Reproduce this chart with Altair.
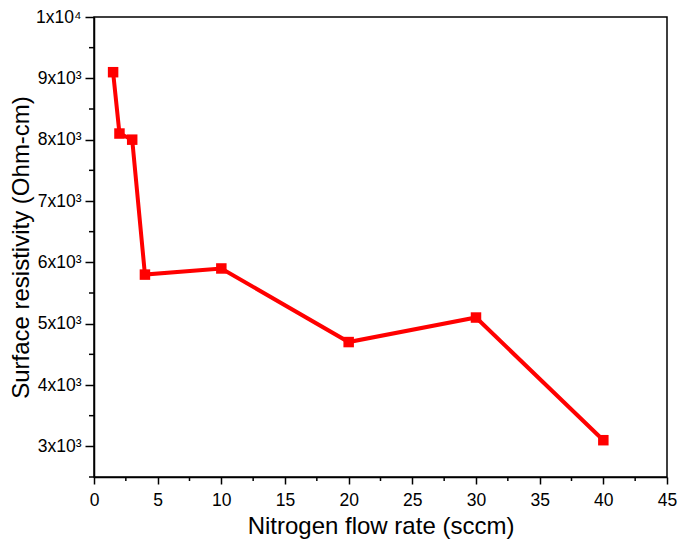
import altair as alt
import pandas as pd

flow = [1.5, 2, 3, 4, 10, 20, 30, 40]
resist = [9100, 8100, 8000, 5800, 5900, 4700, 5100, 3100]

x_major = [0, 5, 10, 15, 20, 25, 30, 35, 40, 45]
x_minor = [2.5, 7.5, 12.5, 17.5, 22.5, 27.5, 32.5, 37.5, 42.5]
y_major = [3000, 4000, 5000, 6000, 7000, 8000, 9000, 10000]
y_minor = [2500, 3500, 4500, 5500, 6500, 7500, 8500, 9500]

W, H = 573, 460
FONT = "Liberation Sans"

df = pd.DataFrame({"flow": flow, "resist": resist})
xs = alt.Scale(domain=[0, 45], nice=False, zero=False)
ys = alt.Scale(domain=[2500, 10000], nice=False, zero=False)

base = alt.Chart(df)

xaxis = alt.Axis(values=x_major, title="Nitrogen flow rate (sccm)", grid=False,
                 tickSize=7, tickWidth=1.5, domainWidth=1.5, tickColor="black",
                 domainColor="black", labelFontSize=17.5, titleFontSize=24,
                 labelPadding=7, titlePadding=6, labelColor="black", titleColor="black",
                 titleFontWeight="normal", labelFont=FONT, titleFont=FONT, labelFlush=False)
yaxis = alt.Axis(values=y_major, title="Surface resistivity (Ohm-cm)", grid=False,
                 tickSize=9, tickWidth=1.5, domainWidth=1.5, tickColor="black",
                 domainColor="black", labelFontSize=17.5, titleFontSize=24,
                 labelPadding=4, titlePadding=2, labelColor="black", titleColor="black",
                 titleFontWeight="normal", labelFont=FONT, titleFont=FONT, labelFlush=False,
                 labelExpr="datum.value == 10000 ? '1x10\u2074' : floor(datum.value/1000) + 'x10\u00b3'")

line = base.mark_line(color="#ff0000", strokeWidth=4).encode(
    x=alt.X("flow:Q", scale=xs, axis=xaxis),
    y=alt.Y("resist:Q", scale=ys, axis=yaxis),
)
pts = base.mark_point(shape="square", filled=True, size=110, color="#ff0000", opacity=1).encode(
    x=alt.X("flow:Q", scale=xs, axis=xaxis),
    y=alt.Y("resist:Q", scale=ys, axis=yaxis),
)

xm = alt.Chart(pd.DataFrame({"v": x_minor})).mark_rule(color="black", strokeWidth=1.5).encode(
    x=alt.X("v:Q", scale=xs, axis=xaxis),
    y=alt.value(H), y2=alt.value(H + 4),
)
ym = alt.Chart(pd.DataFrame({"v": y_minor})).mark_rule(color="black", strokeWidth=1.5).encode(
    y=alt.Y("v:Q", scale=ys, axis=yaxis),
    x=alt.value(-5), x2=alt.value(0),
)

chart = alt.layer(line, pts, xm, ym).properties(
    width=W, height=H,
    autosize=alt.AutoSizeParams(type="none"),
    padding={"left": 86, "top": 9, "right": 10, "bottom": 67},
).configure(background="white").configure_view(stroke="black", strokeWidth=1.5)

chart.save("out.html", embed_options={"renderer": "svg", "actions": False})
